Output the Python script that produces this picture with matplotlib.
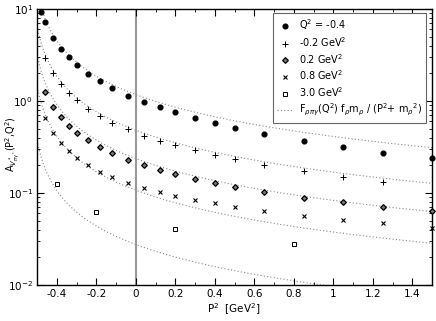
import numpy as np
import matplotlib
matplotlib.use("Agg")
import matplotlib.pyplot as plt
from matplotlib.ticker import MultipleLocator, LogLocator, NullFormatter

# data
p2_neg04 = [-0.48, -0.46, -0.42, -0.38, -0.34, -0.30, -0.24, -0.18, -0.12, -0.04,
            0.04, 0.12, 0.20, 0.30, 0.40, 0.50, 0.65, 0.85, 1.05, 1.25, 1.50]
a_neg04 = [9.35, 7.17, 4.88, 3.70, 2.98, 2.46, 1.97, 1.64, 1.38, 1.14,
           0.98, 0.855, 0.754, 0.653, 0.581, 0.513, 0.438, 0.370, 0.319, 0.274, 0.238]

p2_neg02 = [-0.46, -0.42, -0.38, -0.34, -0.30, -0.24, -0.18, -0.12, -0.04,
            0.04, 0.12, 0.20, 0.30, 0.40, 0.50, 0.65, 0.85, 1.05, 1.25]
a_neg02 = [2.91, 2.00, 1.52, 1.23, 1.03, 0.819, 0.687, 0.581, 0.492,
           0.420, 0.370, 0.330, 0.291, 0.259, 0.232, 0.201, 0.173, 0.149, 0.132]

p2_02 = [-0.46, -0.42, -0.38, -0.34, -0.30, -0.24, -0.18, -0.12, -0.04,
         0.04, 0.12, 0.20, 0.30, 0.40, 0.50, 0.65, 0.85, 1.05, 1.25, 1.50]
a_02 = [1.26, 0.855, 0.665, 0.539, 0.452, 0.374, 0.316, 0.270, 0.231,
        0.202, 0.178, 0.160, 0.141, 0.129, 0.117, 0.103, 0.0889, 0.0792, 0.071, 0.0637]

p2_08 = [-0.46, -0.42, -0.38, -0.34, -0.30, -0.24, -0.18, -0.12, -0.04,
         0.04, 0.12, 0.20, 0.30, 0.40, 0.50, 0.65, 0.85, 1.05, 1.25, 1.50]
a_08 = [0.648, 0.452, 0.347, 0.286, 0.243, 0.200, 0.170, 0.150, 0.129,
        0.114, 0.102, 0.0928, 0.0839, 0.0773, 0.071, 0.0637, 0.0566, 0.0509, 0.0469, 0.042]

p2_30 = [-0.40, -0.20, 0.20, 0.80]
a_30 = [0.124, 0.0621, 0.0403, 0.0277]

# VMD curve amplitudes F f m for each Q^2, and m_rho^2
vmd_amp = [0.634, 0.26, 0.128, 0.058, 0.0149]
m_rho2 = 0.54

fig = plt.figure(figsize=(4.36, 3.21), dpi=100)
ax = fig.add_axes([0.085, 0.112, 0.906, 0.860])

p2 = np.linspace(-0.5, 1.5, 400)
for i, c in enumerate(vmd_amp):
	ax.plot(p2, c / (p2 + m_rho2), ls=(0, (1, 2)), color="#8a8a8a", lw=0.8,
	        label=r"F$_{\rho\pi\gamma}$(Q$^2$) f$_\rho$m$_\rho$ / (P$^2$+ m$_\rho$$^2$)" if i == 0 else None,
	        zorder=1)

ax.axvline(0, color="#999999", lw=1.5, zorder=0)

ax.plot(p2_neg04, a_neg04, "o", color="black", ms=3.4, ls="none", label=r"Q$^2$ = -0.4", clip_on=False, zorder=3)
ax.plot(p2_neg02, a_neg02, "+", color="black", ms=4.0, mew=0.7, ls="none", label=r"-0.2 GeV$^2$", zorder=3)
ax.plot(p2_02, a_02, "D", mfc="#777777", mec="black", mew=0.9, ms=2.9, ls="none", label=r"0.2 GeV$^2$", clip_on=False, zorder=3)
ax.plot(p2_08, a_08, "x", color="black", ms=2.8, mew=0.8, ls="none", label=r"0.8 GeV$^2$", clip_on=False, zorder=3)
ax.plot(p2_30, a_30, "s", mfc="white", mec="black", mew=0.7, ms=3.0, ls="none", label=r"3.0 GeV$^2$", zorder=3)

ax.set_yscale("log")
ax.set_xlim(-0.5, 1.5)
ax.set_ylim(1e-2, 1e1)

ax.xaxis.set_minor_locator(MultipleLocator(0.1))
ax.yaxis.set_major_locator(LogLocator(base=10, numticks=10))
ax.yaxis.set_minor_locator(LogLocator(base=10, subs=np.arange(2, 10), numticks=20))
ax.yaxis.set_minor_formatter(NullFormatter())
ax.set_xticks([-0.4, -0.2, 0, 0.2, 0.4, 0.6, 0.8, 1.0, 1.2, 1.4])
ax.set_xticklabels(["-0.4", "-0.2", "0", "0.2", "0.4", "0.6", "0.8", "1", "1.2", "1.4"])
ax.tick_params(which="both", direction="in", top=True, right=True, labelsize=7.5, pad=3)
ax.tick_params(which="major", length=5, width=0.8)
ax.tick_params(which="minor", length=2.5, width=0.6)
for s in ax.spines.values():
	s.set_linewidth(1.0)

fig.text(0.537, 0.038, r"P$^2$  [GeV$^2$]", fontsize=7.5, ha="center", va="center")
fig.text(0.03, 0.55, r"A$_{V^*_{\pi\gamma^*}}$(P$^2$,Q$^2$)", fontsize=7,
         rotation=90, ha="center", va="center")

h, l = ax.get_legend_handles_labels()
order = [1, 2, 3, 4, 5, 0]
leg = ax.legend([h[k] for k in order], [l[k] for k in order], loc="upper right",
                bbox_to_anchor=(0.985, 0.985), fontsize=7, frameon=True, fancybox=False,
                edgecolor="#666666", framealpha=1, borderpad=0.45, labelspacing=0.3,
                handlelength=1.6, handletextpad=0.6, numpoints=1, borderaxespad=0)
leg.get_frame().set_linewidth(0.8)

fig.savefig("out.png", dpi=100)
